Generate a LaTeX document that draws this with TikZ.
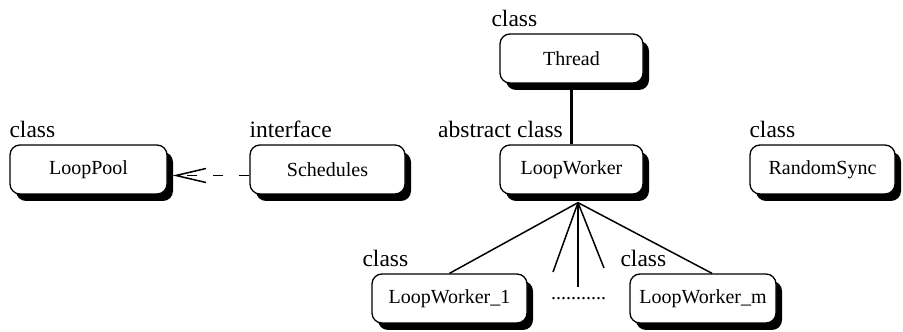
\documentclass[tikz,border=0pt]{standalone}
\usepackage{fontspec}
\setmainfont{Liberation Serif}
\newfontfamily\timesfont{Liberation Serif}
\usetikzlibrary{arrows.meta}
\usetikzlibrary{shadows}
\usetikzlibrary{positioning}

\begin{document}
\begin{tikzpicture}[x = 1pt, y = 1pt]
	\tikzstyle{classStyle}=[shape = rectangle, rounded corners = 10pt, draw, line width = 1.3pt, fill = white, minimum height = 49pt, inner sep = 2pt, font = \timesfont\fontsize{20}{24}\selectfont, drop shadow = {shadow xshift = 6pt, shadow yshift = -7pt, opacity = 1, fill = black}]
	\tikzstyle{tagStyle}=[inner sep = 0pt, font = \timesfont\fontsize{23.5}{28}\selectfont]
	\tikzstyle{EdgeStyle}=[line width = 1.5pt]
	\useasboundingbox (0, 0) rectangle (903, 332);
	\node[classStyle, minimum width = 143pt] (thread) at (571.5, 273.5) {Thread};
	\node[classStyle, minimum width = 143pt] (worker) at (571.5, 162.5) {LoopWorker};
	\node[classStyle, minimum width = 157pt] (pool) at (88.5, 162.5) {LoopPool};
	\node[classStyle, minimum width = 155pt] (sched) at (327.5, 162.5) {Schedules};
	\node[classStyle, minimum width = 145pt] (sync) at (822.5, 162.5) {RandomSync};
	\node[classStyle, minimum width = 155pt] (worker1) at (449.5, 33.5) {LoopWorker\_1};
	\node[classStyle, minimum width = 146pt] (workerm) at (703, 33.5) {LoopWorker\_m};
	% stereotypes
	\node[tagStyle, above right = 6pt and -8pt of thread.north west] (t0) {class};
	\node[tagStyle, above left = 6pt and 8.5pt of worker.north] (t1) {abstract class};
	\node[tagStyle, above right = 6pt and 0pt of pool.north west] (t2) {class};
	\node[tagStyle, above right = 6pt and 0pt of sched.north west] (t3) {interface};
	\node[tagStyle, above right = 6pt and 0pt of sync.north west] (t4) {class};
	\node[tagStyle, above right = 6pt and -9pt of worker1.north west] (t5) {class};
	\node[tagStyle, above right = 6pt and -9pt of workerm.north west] (t6) {class};
	% subclasses
	\coordinate (fan) at ([xshift = 6.5pt, yshift = -8pt]worker.south);
	\coordinate (f1) at (553, 60);
	\coordinate (f2) at (578, 45);
	\coordinate (f3) at (604, 64);
	\node[inner sep = 0pt, font = \timesfont\fontsize{20}{24}\selectfont] (more) at (578.5, 33) {...........};
	\draw[line width = 3.5pt] (thread.south) -- (worker.north);
	\draw[EdgeStyle] (fan) -- (worker1.north);
	\draw[EdgeStyle] (fan) -- (f1);
	\draw[EdgeStyle] (fan) -- (f2);
	\draw[EdgeStyle] (fan) -- (f3);
	\draw[EdgeStyle] (fan) -- ([xshift = 9pt]workerm.north);
	\draw[EdgeStyle, dash pattern = on 10pt off 16pt, -{Straight Barb[length = 30pt, width = 14pt]}] ([yshift = -6pt]sched.west) -- ([xshift = 5pt, yshift = -6pt]pool.east);
\end{tikzpicture}
\end{document}
